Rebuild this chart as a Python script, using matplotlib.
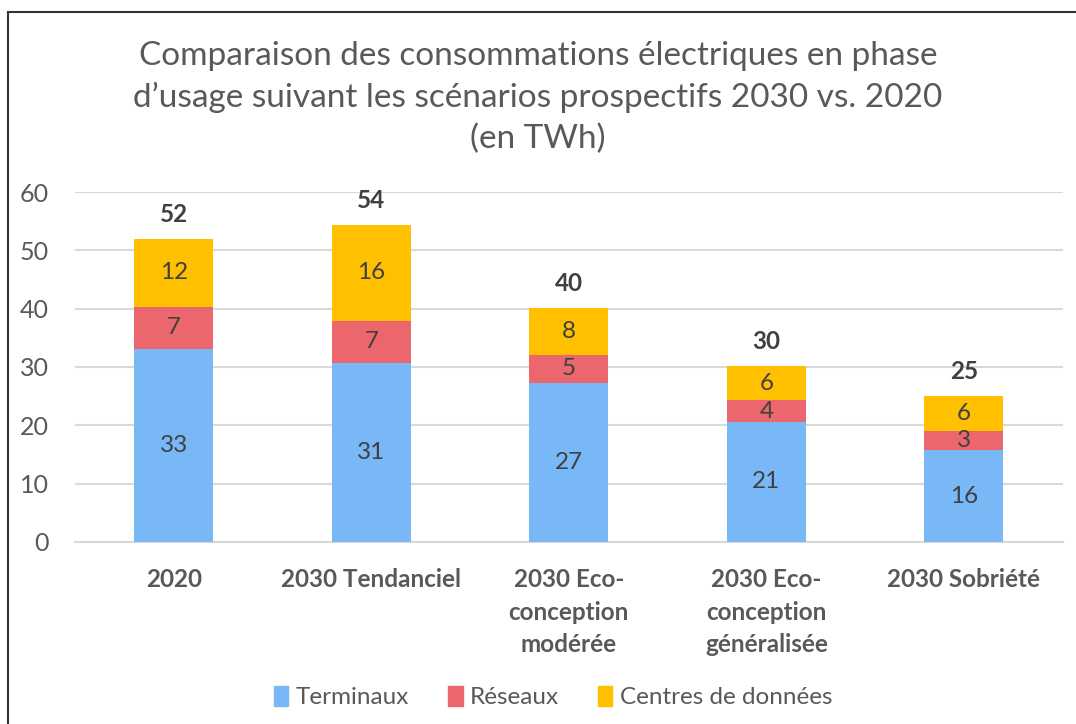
import numpy as np
import matplotlib.pyplot as plt
from matplotlib.patches import Rectangle, Patch

plt.rcParams['font.family'] = ['Lato', 'DejaVu Sans']

categories = ["2020", "2030 Tendanciel", "2030 Eco-\nconception\nmodérée",
              "2030 Eco-\nconception\ngénéralisée", "2030 Sobriété"]
terminaux = [33.1, 30.7, 27.3, 20.6, 15.7]
reseaux = [7.2, 7.2, 4.8, 3.7, 3.4]
centres = [11.7, 16.5, 8.0, 5.9, 5.9]
series_names = ["Terminaux", "Réseaux", "Centres de données"]
colors = ["#78B8F6", "#EC666D", "#FFC000"]

fig = plt.figure(figsize=(10.76, 7.24), dpi=100)
# frame around the chart
fig.patches.append(Rectangle((8 / 1076, -0.05), 1.1, 1 - 12 / 724 + 0.05,
                             transform=fig.transFigure, fill=False,
                             edgecolor="#333333", linewidth=1.5))

ax = fig.add_axes([0.0697, 0.2514, 0.918, 0.4834])
x = np.arange(len(categories))
w = 0.40
bottom = np.zeros(len(categories))
for vals, name, c in zip([terminaux, reseaux, centres], series_names, colors):
    vals = np.array(vals)
    ax.bar(x, vals, w, bottom=bottom, color=c, label=name, zorder=3)
    for xi, b, v in zip(x, bottom, vals):
        ax.text(xi, b + v / 2, f"{v:.0f}", ha="center", va="center",
                fontsize=17.5, color="#404040", zorder=4)
    bottom = bottom + vals

for xi, t in zip(x, bottom):
    ax.text(xi, t + 2.2, f"{t:.0f}", ha="center", va="bottom",
            fontsize=17.5, fontweight="bold", color="#404040")

ax.set_xlim(-0.5, len(categories) - 0.5)
ax.set_ylim(0, 60)
ax.set_yticks(range(0, 61, 10))
ax.yaxis.grid(True, color="#D9D9D9", linewidth=1.5, zorder=0)
ax.set_axisbelow(True)
for s in ["top", "right", "left"]:
    ax.spines[s].set_visible(False)
ax.spines["bottom"].set_color("#D9D9D9")
ax.spines["bottom"].set_linewidth(1.5)
ax.tick_params(axis="both", length=0, labelsize=18, labelcolor="#595959")
ax.tick_params(axis="y", pad=19)
ax.set_xticks(x)
ax.set_xticklabels(categories, fontweight="bold", linespacing=1.5, va="top",
                   fontsize=17.5)
ax.tick_params(axis="x", pad=19)

fig.text(0.5, 0.943, "Comparaison des consommations électriques en phase\n"
         "d’usage suivant les scénarios prospectifs 2030 vs. 2020\n(en TWh)",
         ha="center", va="top", fontsize=24, color="#595959", linespacing=1.42)

handles = [Patch(color=c) for c in colors]
fig.legend(handles, series_names, loc="center", bbox_to_anchor=(0.514, 0.037),
           ncol=3, frameon=False, fontsize=17.5, labelcolor="#595959",
           handlelength=0.6, handleheight=0.9, handletextpad=0.3, columnspacing=1.6)

fig.savefig("out.png", dpi=100)
